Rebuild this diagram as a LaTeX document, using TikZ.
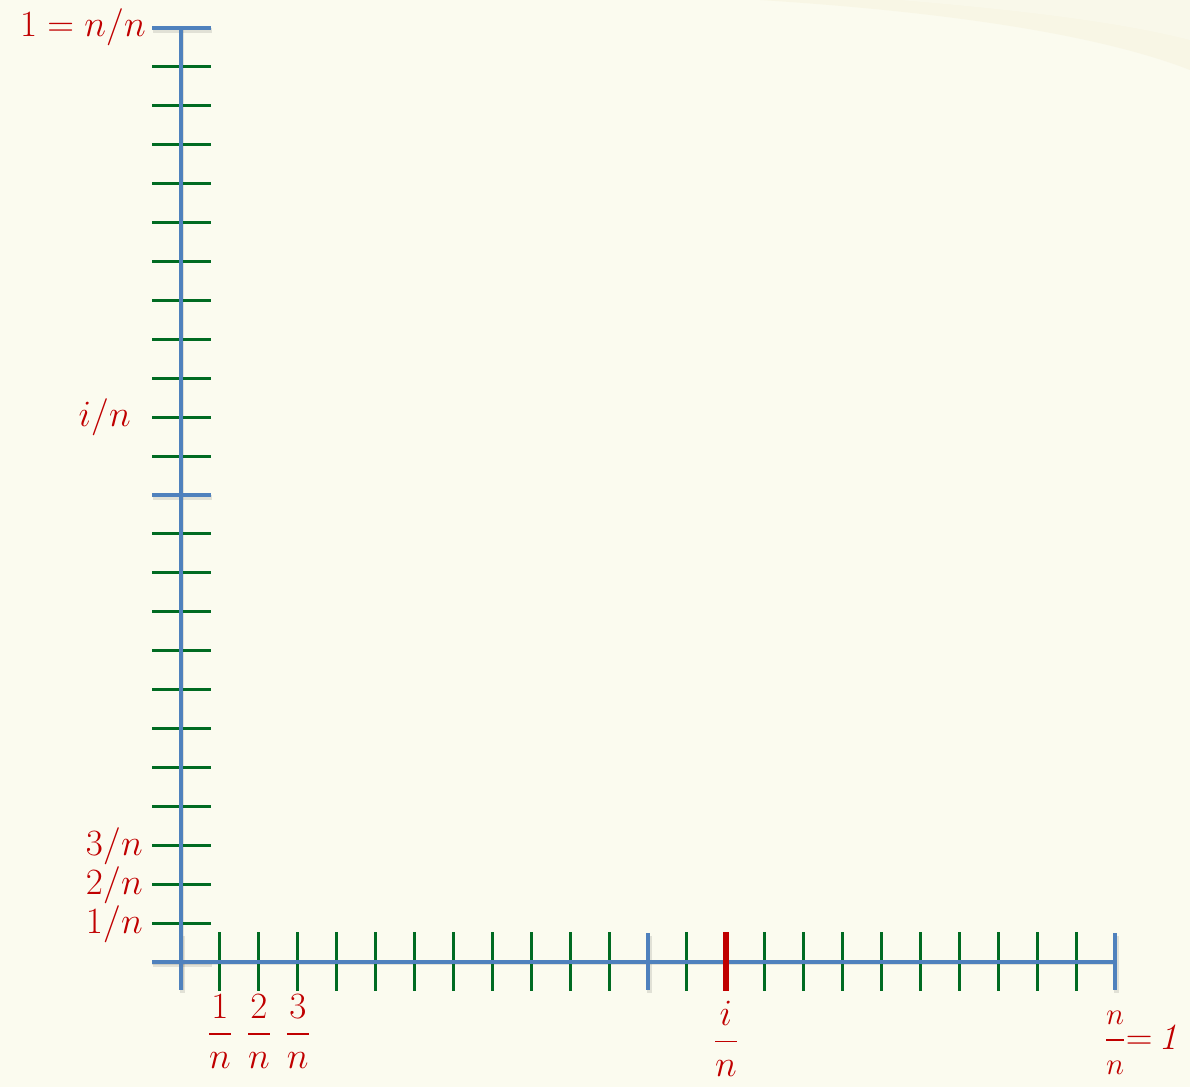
\documentclass[tikz,border=0pt]{standalone}
\usepackage{amsmath}
\definecolor{bg}{HTML}{FBFBEF}
\definecolor{bgdark}{HTML}{F5F1DA}
\definecolor{axblue}{HTML}{4F81BD}
\definecolor{tkgreen}{HTML}{006B22}
\definecolor{lbred}{HTML}{C00000}
\newcommand{\BigLab}[1]{\scalebox{1.49}{\Huge #1}}
\begin{document}
\begin{tikzpicture}[x=1pt,y=-1pt,
  axis/.style={axblue,line width=4pt},
  gtick/.style={tkgreen,line width=3pt},
  rtick/.style={lbred,line width=6pt},
  shad/.style={black,opacity=0.1,line width=5pt},
  lab/.style={text=lbred,inner sep=0pt}]
\fill[bg] (0,0) rectangle (1190,1087);
\useasboundingbox (0,0) rectangle (1190,1087);
% faint sheen top right
\fill[bgdark,opacity=0.45] (760,0) .. controls (950,12) and (1100,35) .. (1190,70) -- (1190,0) -- cycle;
\fill[bg,opacity=0.5] (900,0) .. controls (1020,10) and (1120,22) .. (1190,40) -- (1190,0) -- cycle;
\pgfmathsetmacro{\d}{934/24}
% named coordinates
\coordinate (O) at (181,962);
\coordinate (Ytop) at (181,28);
\coordinate (Ybot) at (181,990);
\coordinate (Xleft) at (152,962);
\coordinate (Xright) at (1115,962);
% shadows of blue lines
\begin{scope}[shift={(1,2.5)}]
\draw[shad] (Ytop) -- (Ybot);
\draw[shad] (Xleft) -- (Xright);
\foreach \k in {0,12,24}{
  \draw[shad] (152,{962-\k*\d}) -- (211,{962-\k*\d});
  \draw[shad] ({181+\k*\d},933) -- ({181+\k*\d},990);
}
\end{scope}
% green ticks on vertical axis
\foreach \k in {1,...,11,13,14,...,23}{
  \draw[gtick] (152,{962-\k*\d}) -- (211,{962-\k*\d});
}
% green ticks on horizontal axis
\foreach \k in {1,...,11,13,15,16,...,23}{
  \draw[gtick] ({181+\k*\d},932) -- ({181+\k*\d},991);
}
% axes
\draw[axis] (Ytop) -- (Ybot);
\draw[axis] (Xleft) -- (Xright);
% blue ticks
\foreach \k in {0,12,24}{
  \draw[axis] (152,{962-\k*\d}) -- (211,{962-\k*\d});
  \draw[axis] ({181+\k*\d},933) -- ({181+\k*\d},990);
}
% red tick
\draw[rtick] ({181+14*\d},932) -- ({181+14*\d},991);
% labels on vertical axis
\node[lab,anchor=east] (ltop) at (146,27) {\BigLab{$1=n/n$}};
\node[lab,anchor=east] (li) at (131,417) {\BigLab{$i/n$}};
\node[lab,anchor=east] (l3) at (143,846) {\BigLab{$3/n$}};
\node[lab,anchor=east] (l2) at (143,885) {\BigLab{$2/n$}};
\node[lab,anchor=east] (l1) at (143,924) {\BigLab{$1/n$}};
% labels on horizontal axis
\node[lab,anchor=north] (f1) at ({181+1*\d},994) {\BigLab{$\dfrac{1}{n}$}};
\node[lab,anchor=north] (f2) at ({181+2*\d},994) {\BigLab{$\dfrac{2}{n}$}};
\node[lab,anchor=north] (f3) at ({181+3*\d},994) {\BigLab{$\dfrac{3}{n}$}};
\node[lab,anchor=north] (fi) at ({181+14*\d},1001) {\BigLab{$\dfrac{i}{n}$}};
\node[lab,anchor=west] (fn) at (1104,1043) {\BigLab{$\dfrac{\scriptstyle n}{\scriptstyle n}{=}\,\mathit{1}$}};
\end{tikzpicture}
\end{document}
